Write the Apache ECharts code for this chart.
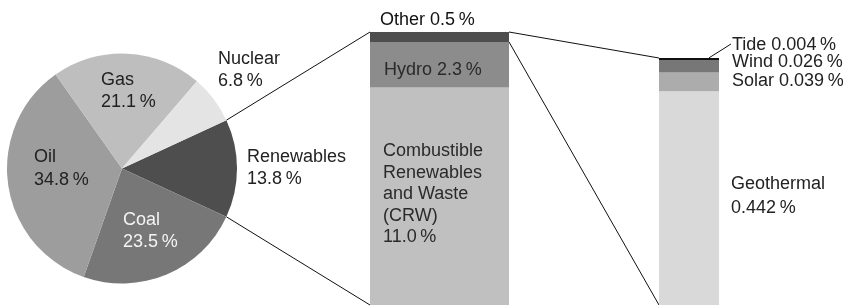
<!DOCTYPE html>
<html>
<head>
<meta charset="utf-8">
<script src="https://cdn.jsdelivr.net/npm/echarts@6/dist/echarts.min.js"></script>
</head>
<body style="margin: 0; background: #fff">
<div id="container" style="width: 843px; height: 306px"></div>
<script type="text/javascript">
// world primary energy supply shares (%)
var pieNames = ['Renewables', 'Coal', 'Oil', 'Gas', 'Nuclear'];
var pieValues = [13.8, 23.5, 34.8, 21.1, 6.8];

// breakdown of the renewables slice (%), bottom to top
var renewNames = ['Combustible\nRenewables\nand Waste\n(CRW)', 'Hydro', 'Other'];
var renewValues = [11.0, 2.3, 0.5];

// breakdown of "Other" (%), bottom to top
var otherNames = ['Geothermal', 'Solar', 'Wind', 'Tide'];
var otherValues = [0.442, 0.039, 0.026, 0.004];

var FONT = "'Liberation Sans', Arial, sans-serif";
var pieColors = ['#4e4e4e', '#777777', '#9d9d9d', '#bebebe', '#e4e4e4'];
var pieTextColors = ['#222', '#f4f4f4', '#222', '#222', '#222'];
// top-left of each pie label, relative to the pie centre
var pieLabelAt = [[125, -23], [1, 40], [-88, -22.5], [-21, -100], [96, -121]];

var renewColors = ['#c0c0c0', '#8c8c8c', '#4e4e4e'];
var renewLabelPos = [[13, 53], [14, 17], [10, -22.5]];
var otherColors = ['#d9d9d9', '#acacac', '#777777', '#111111'];
var otherLabelPos = [[72, 81], [73, -2], [73, -9], [73, -24]];

var PIE = {cx: 122, cy: 168.5, r: 115};
var MID = {left: 370, top: 32, width: 139, height: 273};
var RIGHT = {left: 659, top: 58, width: 60, height: 247};

function sum(a) { return a.reduce(function (s, v) { return s + v; }, 0); }
function pct(v, d) { return v.toFixed(d) + '\u2009%'; }

var pieTotal = sum(pieValues);
var renewTotal = sum(renewValues);
var otherTotal = sum(otherValues);
// renewables slice is centred on the horizontal axis
var startAngle = pieValues[0] / pieTotal * 180;

var dom = document.getElementById('container');
var myChart = echarts.init(dom);

var series = [{
    type: 'pie',
    center: [PIE.cx, PIE.cy],
    radius: PIE.r,
    startAngle: startAngle,
    silent: true,
    avoidLabelOverlap: false,
    label: {
        show: true,
        position: 'inside',
        fontFamily: FONT,
        fontSize: 18,
        lineHeight: 22.5,
        formatter: function (p) { return p.name + '\n' + pct(p.value, 1); }
    },
    labelLine: {show: false},
    labelLayout: function (p) {
        var o = pieLabelAt[p.dataIndex];
        return {x: PIE.cx + o[0], y: PIE.cy + o[1], align: 'left', verticalAlign: 'top'};
    },
    data: pieNames.map(function (n, i) {
        return {
            name: n,
            value: pieValues[i],
            itemStyle: {color: pieColors[i]},
            label: {color: pieTextColors[i]}
        };
    })
}];

renewNames.forEach(function (n, i) {
    var twoLine = i === 0;
    series.push({
        type: 'bar',
        name: n,
        xAxisIndex: 0,
        yAxisIndex: 0,
        stack: 'renew',
        barWidth: '100%',
        silent: true,
        itemStyle: {color: renewColors[i]},
        label: {
            show: true,
            position: renewLabelPos[i],
            align: 'left',
            verticalAlign: 'top',
            fontFamily: FONT,
            fontSize: 18,
            lineHeight: twoLine ? 21.5 : 22,
            color: i === 2 ? '#111' : '#2a2a2a',
            formatter: function (p) {
                return p.seriesName + (twoLine ? '\n' : ' ') + pct(p.value, 1);
            }
        },
        data: [renewValues[i]]
    });
});

otherNames.forEach(function (n, i) {
    var twoLine = i === 0;
    series.push({
        type: 'bar',
        name: n,
        xAxisIndex: 1,
        yAxisIndex: 1,
        stack: 'other',
        barWidth: '100%',
        silent: true,
        itemStyle: {color: otherColors[i]},
        label: {
            show: true,
            position: otherLabelPos[i],
            align: 'left',
            verticalAlign: 'top',
            fontFamily: FONT,
            fontSize: 18,
            lineHeight: twoLine ? 23.5 : 22,
            color: '#222',
            formatter: function (p) {
                return p.seriesName + (twoLine ? '\n' : ' ') + pct(p.value, 3);
            }
        },
        data: [otherValues[i]]
    });
});

var hiddenCat = {type: 'category', data: [''], show: false, boundaryGap: true};
myChart.setOption({
    backgroundColor: '#fff',
    animation: false,
    grid: [
        {left: MID.left, top: MID.top, width: MID.width, height: MID.height},
        {left: RIGHT.left, top: RIGHT.top, width: RIGHT.width, height: RIGHT.height}
    ],
    xAxis: [
        Object.assign({gridIndex: 0}, hiddenCat),
        Object.assign({gridIndex: 1}, hiddenCat)
    ],
    yAxis: [
        {type: 'value', gridIndex: 0, min: 0, max: renewTotal, show: false},
        {type: 'value', gridIndex: 1, min: 0, max: otherTotal, show: false}
    ],
    series: series
});

// connector lines between pie, middle bar and right bar
var rad = startAngle * Math.PI / 180;
var pTop = [PIE.cx + PIE.r * Math.cos(rad), PIE.cy - PIE.r * Math.sin(rad)];
var pBot = [PIE.cx + PIE.r * Math.cos(rad), PIE.cy + PIE.r * Math.sin(rad)];
var midTopY = myChart.convertToPixel({yAxisIndex: 0}, renewTotal);
var midOtherY = myChart.convertToPixel({yAxisIndex: 0}, renewTotal - renewValues[2]);
var midBotY = myChart.convertToPixel({yAxisIndex: 0}, 0);
var rTopY = myChart.convertToPixel({yAxisIndex: 1}, otherTotal);
var rBotY = myChart.convertToPixel({yAxisIndex: 1}, 0);
var midRight = MID.left + MID.width;

function seg(a, b) {
    return {
        type: 'line',
        silent: true,
        shape: {x1: a[0], y1: a[1], x2: b[0], y2: b[1]},
        style: {stroke: '#111', lineWidth: 1}
    };
}

myChart.setOption({
    graphic: [
        seg(pTop, [MID.left, midTopY]),
        seg(pBot, [MID.left, midBotY]),
        seg([midRight, midTopY], [RIGHT.left, rTopY]),
        seg([midRight, midOtherY], [RIGHT.left, rBotY]),
        seg([RIGHT.left + RIGHT.width * 0.83, rTopY], [RIGHT.left + 72, rTopY - 14])
    ]
});
</script>
</body>
</html>
